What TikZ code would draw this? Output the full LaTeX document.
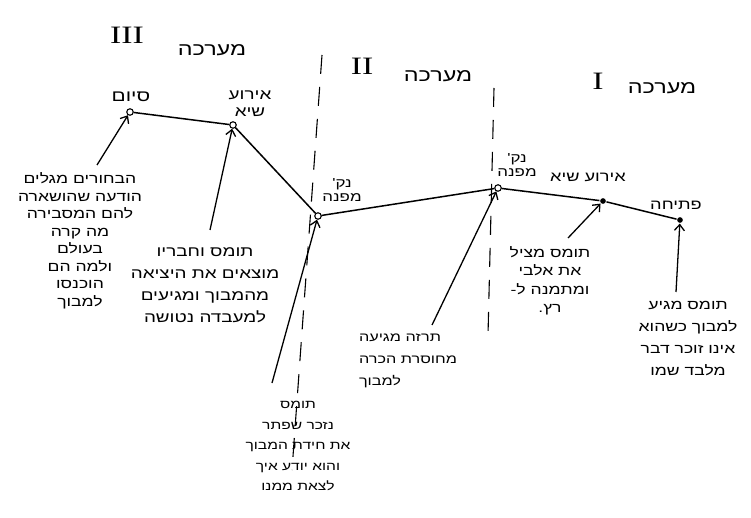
\documentclass[tikz,border=0pt]{standalone}
\usepackage{fontspec}
\setmainfont{Liberation Sans}
\newfontfamily\hebfont[Script=Hebrew, FakeStretch=1.3]{Liberation Sans}
\newfontfamily\numfont[FakeStretch=1.35]{Liberation Serif}
\TeXXeTstate=1
\usetikzlibrary{arrows.meta}
\newcommand{\heb}[1]{\beginR#1\endR}

\begin{document}
\begin{tikzpicture}[x=1pt, y=-1pt, line width=1.5pt,
  pt/.style={circle, draw, fill=white, line width=1.1pt, inner sep=2.3pt},
  dotpt/.style={circle, fill=black, inner sep=2pt},
  lbl/.style={font=\hebfont\fontsize{14}{15}\selectfont, inner sep=0pt},
  blk/.style={font=\hebfont\fontsize{12.5}{20}\selectfont, align=center, inner sep=0pt},
  act/.style={font=\hebfont\fontsize{18}{20}\selectfont, inner sep=0pt},
  roman/.style={font=\numfont\fontsize{25}{25}\selectfont, inner sep=0pt},
  arr/.style={line width=1.3pt, -{Straight Barb[length=6pt, width=10pt]}},
  actline/.style={line width=1.1pt, dash pattern=on 19pt off 13pt}]

\useasboundingbox (0,0) rectangle (751,518);

% acts
\node[roman] (numIII) at (127,35) {III};
\node[act] (actIII) at (212,50) {\heb{מערכה}};
\node[roman] (numII) at (362,66) {II};
\node[act] (actII) at (438,76) {\heb{מערכה}};
\node[roman] (numI) at (598,81) {I};
\node[act] (actI) at (662,88) {\heb{מערכה}};

% act borders
\coordinate (sepL1) at (322,55);
\coordinate (sepL2) at (292,470);
\coordinate (sepR1) at (494,88);
\coordinate (sepR2) at (488,335);
\draw[actline] (sepL1) -- (sepL2);
\draw[actline] (sepR1) -- (sepR2);

% plot points
\node[pt] (ending) at (130,112) {};
\node[pt] (climax) at (233,125) {};
\node[pt] (turnB) at (318,216) {};
\node[pt] (turnA) at (498,188) {};
\node[dotpt] (incite) at (603,201) {};
\node[dotpt] (opening) at (680,220) {};
\draw (opening) -- (incite) -- (turnA) -- (turnB) -- (climax) -- (ending);

% point labels
\node[lbl, font=\hebfont\fontsize{16}{17}\selectfont] (endingL) at (131,97) {\heb{סיום}};
\node[lbl, align=center, font=\hebfont\fontsize{14.5}{17}\selectfont] (climaxL) at (250,104) {\heb{אירוע}\\\heb{שיא}};
\node[lbl, align=center, font=\hebfont\fontsize{13}{14}\selectfont] (turnBL) at (342,190) {\heb{נק'}\\\heb{מפנה}};
\node[lbl, align=center, font=\hebfont\fontsize{13}{14}\selectfont] (turnAL) at (517,165) {\heb{נק'}\\\heb{מפנה}};
\node[lbl] (inciteL) at (588,177) {\heb{אירוע שיא}};
\node[lbl] (openingL) at (676,205) {\heb{פתיחה}};

% descriptions
\node[blk, font=\hebfont\fontsize{13.5}{17.5}\selectfont] (endingT) at (80,241) {\heb{הבחורים מגלים}\\\heb{הודעה שהושארה}\\\heb{להם המסבירה}\\\heb{מה קרה}\\\heb{בעולם}\\\heb{ולמה הם}\\\heb{הוכנסו}\\\heb{למבוך}};
\node[blk, font=\hebfont\fontsize{14.5}{22}\selectfont] (climaxT) at (205,285) {\heb{תומס וחבריו}\\\heb{מוצאים את היציאה}\\\heb{מהמבוך ומגיעים}\\\heb{למעבדה נטושה}};
\node[blk, font=\hebfont\fontsize{12}{20.5}\selectfont] (turnBT) at (298,446) {\heb{תומס}\\\heb{נזכר שפתר}\\\heb{את חידת המבוך}\\\heb{והוא יודע איך}\\\heb{לצאת ממנו}};
\node[blk, align=left, font=\hebfont\fontsize{12.5}{22}\selectfont] (turnAT) at (408,361) {\heb{תרזה מגיעה}\\\heb{מחוסרת הכרה}\\\heb{למבוך}};
\node[blk, font=\hebfont\fontsize{13.5}{18.5}\selectfont] (inciteT) at (550,281) {\heb{תומס מציל}\\\heb{את אלבי}\\\heb{ומתמנה ל-}\\\heb{רץ.}};
\node[blk, font=\hebfont\fontsize{13.5}{22}\selectfont] (openingT) at (688,339) {\heb{תומס מגיע}\\\heb{למבוך כשהוא}\\\heb{אינו זוכר דבר}\\\heb{מלבד שמו}};

% arrows
\coordinate (endingA) at (97,165);
\coordinate (climaxA) at (210,230);
\coordinate (turnBA) at (272,383);
\coordinate (turnAA) at (432,325);
\coordinate (inciteA) at (568,238);
\coordinate (openingA) at (676,292);
\draw[arr] (endingA) -- (ending);
\draw[arr] (climaxA) -- (climax);
\draw[arr] (turnBA) -- (turnB);
\draw[arr] (turnAA) -- (turnA);
\draw[arr] (inciteA) -- (incite);
\draw[arr] (openingA) -- (opening);

\end{tikzpicture}
\end{document}
